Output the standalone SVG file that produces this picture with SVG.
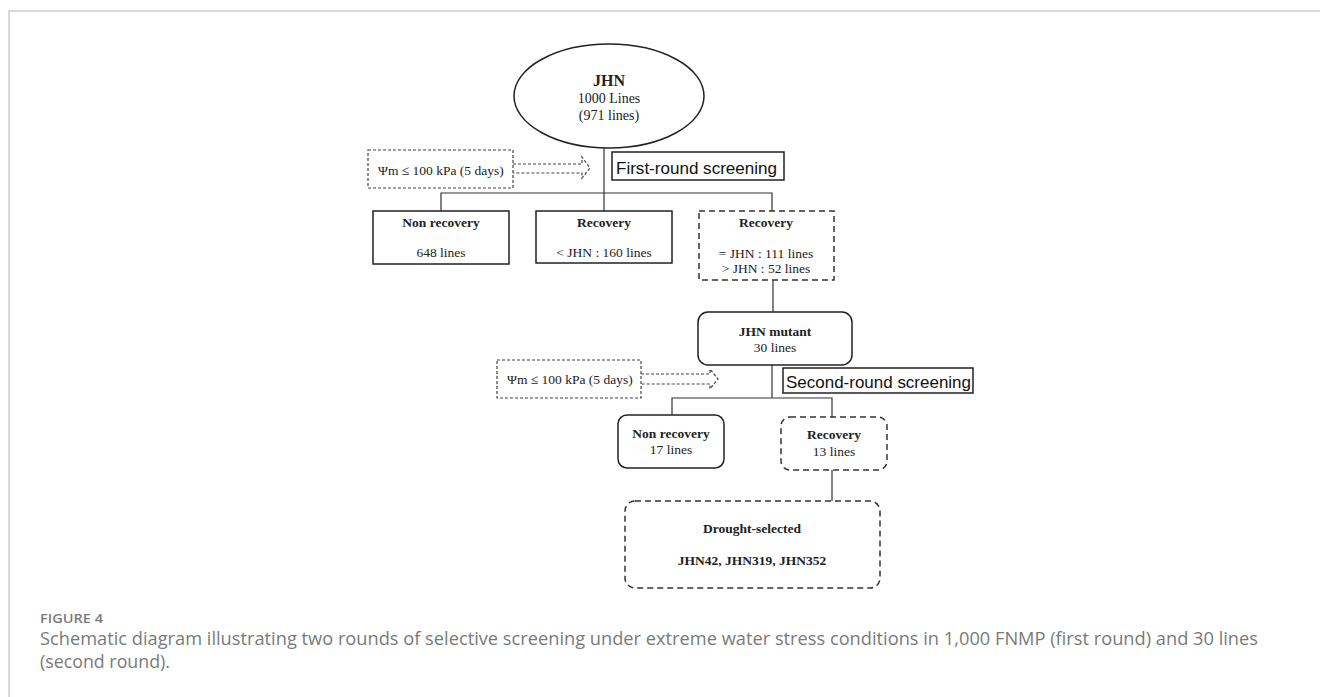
<svg xmlns="http://www.w3.org/2000/svg" width="1320" height="697" viewBox="0 0 1320 697">
<style>
  .frame { stroke: #cccccc; stroke-width: 1.5; fill: none; }
  .box { fill: #ffffff; stroke: #222222; stroke-width: 1.5; }
  .dash { fill: #ffffff; stroke: #333333; stroke-width: 1.5; stroke-dasharray: 6 4; }
  .dot { fill: #ffffff; stroke: #444444; stroke-width: 1.2; stroke-dasharray: 3 2; }
  .line { stroke: #333333; stroke-width: 1.2; fill: none; }
  .arrow { stroke: #444444; stroke-width: 1.2; fill: none; stroke-dasharray: 3 2; }
  .serif { font-family: "Liberation Serif", "Times New Roman", serif; fill: #222222; }
  .b { font-weight: bold; }
  .sans { font-family: "Liberation Sans", Arial, sans-serif; fill: #111111; }
  .cap { font-family: "Open Sans", "Noto Sans", sans-serif; fill: #7a7a7a; }
</style>
<rect width="1320" height="697" fill="#ffffff"/>
<path class="frame" d="M9 697 V11 H1320"/>

<g id="connectors">
  <line class="line" x1="604" y1="148" x2="604" y2="211"/>
  <polyline class="line" points="441,211 441,193 772,193 772,211"/>
  <line class="line" x1="773" y1="280" x2="773" y2="312"/>
  <line class="line" x1="772" y1="365" x2="772" y2="398"/>
  <polyline class="line" points="672,415 672,398 832,398 832,417"/>
  <line class="line" x1="832" y1="470" x2="832" y2="501"/>
  <path class="arrow" d="M513 164 H582 V157 L590 168 L582 178 V173 H513"/>
  <path class="arrow" d="M641 374 H710 V369 L718 379 L710 389 V384 H641"/>
</g>

<g id="jhn">
  <ellipse class="box" cx="609" cy="96" rx="95" ry="52"/>
  <text class="serif b" x="609" y="86" text-anchor="middle" font-size="16">JHN</text>
  <text class="serif" x="609" y="103" text-anchor="middle" font-size="14">1000 Lines</text>
  <text class="serif" x="609" y="120" text-anchor="middle" font-size="14">(971 lines)</text>
</g>

<g id="condition1">
  <rect class="dot" x="368" y="150" width="145" height="38"/>
  <text class="serif" x="378" y="175" font-size="13.5">Ψm ≤ 100 kPa (5 days)</text>
</g>

<g id="first-round">
  <rect class="box" x="612" y="152" width="172" height="28" stroke-width="1.8"/>
  <text class="sans" x="616" y="174" font-size="17" textLength="161" lengthAdjust="spacingAndGlyphs">First-round screening</text>
</g>

<g id="nonrec1">
  <rect class="box" x="373" y="211" width="136" height="53"/>
  <text class="serif b" x="441" y="227" text-anchor="middle" font-size="13.5">Non recovery</text>
  <text class="serif" x="441" y="257" text-anchor="middle" font-size="13.5">648 lines</text>
</g>

<g id="rec1">
  <rect class="box" x="536" y="211" width="136" height="52"/>
  <text class="serif b" x="604" y="227" text-anchor="middle" font-size="13.5">Recovery</text>
  <text class="serif" x="604" y="257" text-anchor="middle" font-size="13.5">&lt; JHN : 160 lines</text>
</g>

<g id="rec1b">
  <rect class="dash" x="699" y="211" width="135" height="69"/>
  <text class="serif b" x="766" y="227" text-anchor="middle" font-size="13.5">Recovery</text>
  <text class="serif" x="766" y="258" text-anchor="middle" font-size="13.5">= JHN : 111 lines</text>
  <text class="serif" x="766" y="273" text-anchor="middle" font-size="13.5">&gt; JHN : 52 lines</text>
</g>

<g id="mutant">
  <rect class="box" x="698" y="312" width="154" height="53" rx="10"/>
  <text class="serif b" x="775" y="336" text-anchor="middle" font-size="13.5">JHN mutant</text>
  <text class="serif" x="775" y="352" text-anchor="middle" font-size="13.5">30 lines</text>
</g>

<g id="condition2">
  <rect class="dot" x="497" y="360" width="144" height="38"/>
  <text class="serif" x="507" y="384" font-size="13.5">Ψm ≤ 100 kPa (5 days)</text>
</g>

<g id="second-round">
  <rect class="box" x="783" y="368" width="190" height="25" stroke-width="1.8"/>
  <text class="sans" x="786" y="388" font-size="17" textLength="185" lengthAdjust="spacingAndGlyphs">Second-round screening</text>
</g>

<g id="nonrec2">
  <rect class="box" x="618" y="415" width="106" height="53" rx="9"/>
  <text class="serif b" x="671" y="438" text-anchor="middle" font-size="13.5">Non recovery</text>
  <text class="serif" x="671" y="454" text-anchor="middle" font-size="13.5">17 lines</text>
</g>

<g id="rec2">
  <rect class="dash" x="781" y="417" width="106" height="53" rx="9"/>
  <text class="serif b" x="834" y="439" text-anchor="middle" font-size="13.5">Recovery</text>
  <text class="serif" x="834" y="456" text-anchor="middle" font-size="13.5">13 lines</text>
</g>

<g id="selected">
  <rect class="dash" x="625" y="501" width="255" height="87" rx="10" stroke-width="1.8"/>
  <text class="serif b" x="752" y="533" text-anchor="middle" font-size="13.5">Drought-selected</text>
  <text class="serif b" x="752" y="565" text-anchor="middle" font-size="13.5">JHN42, JHN319, JHN352</text>
</g>

<g id="caption">
  <text class="cap" x="40" y="623" font-size="13" font-weight="600" textLength="63" lengthAdjust="spacingAndGlyphs">FIGURE 4</text>
  <text class="cap" x="40" y="645" font-size="17.5" textLength="1218" lengthAdjust="spacingAndGlyphs">Schematic diagram illustrating two rounds of selective screening under extreme water stress conditions in 1,000 FNMP (first round) and 30 lines</text>
  <text class="cap" x="40" y="668" font-size="17.5" textLength="130" lengthAdjust="spacingAndGlyphs">(second round).</text>
</g>
</svg>
